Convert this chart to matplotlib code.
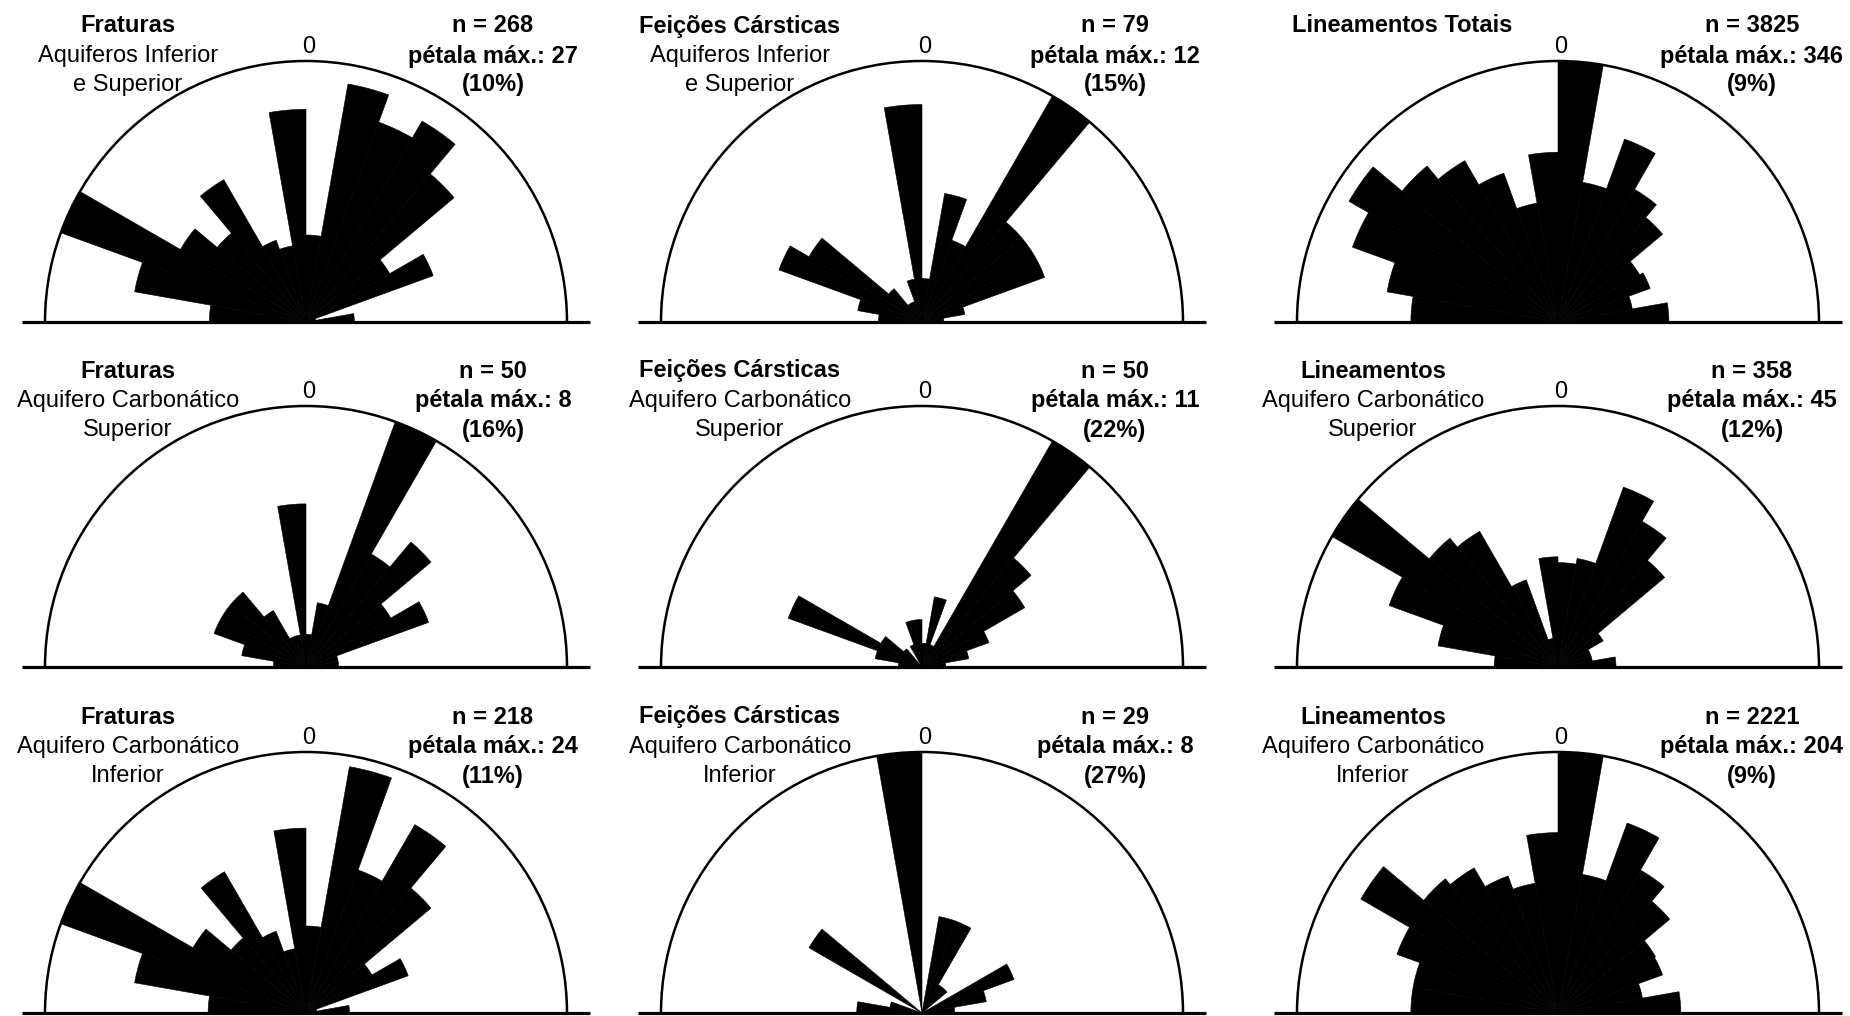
import numpy as np
import matplotlib.pyplot as plt

plt.rcParams['font.family'] = ['Liberation Sans', 'DejaVu Sans']

# setores de 10 graus, de W (-90) a E (90) passando pelo N
setores = np.arange(-90, 90, 10)

# contagens por setor (W -> N -> E)
fraturas_total = [10, 18, 27, 15, 12, 17, 9, 8, 22, 9, 25, 22, 24, 20, 10, 14, 1, 5]
carste_total = [2, 3, 7, 6, 2, 1, 1, 2, 10, 2, 6, 4, 12, 6, 6, 6, 2, 1]
lineamentos_total = [195, 230, 290, 320, 270, 247, 210, 160, 225, 346, 188, 258, 203, 181, 125, 130, 100, 147]
fraturas_sup = [1, 2, 3, 3, 3, 2, 1, 1, 5, 1, 2, 8, 4, 5, 3, 4, 1, 1]
carste_sup = [1, 2, 6, 2, 1, 0, 1, 2, 2, 1, 3, 1, 11, 6, 5, 3, 2, 1]
lineamentos_sup = [11, 21, 31, 45, 29, 27, 16, 5, 19, 18, 19, 33, 29, 24, 9, 6, 6, 10]
fraturas_inf = [9, 16, 24, 12, 9, 15, 8, 6, 17, 8, 23, 14, 20, 15, 7, 10, 1, 4]
carste_inf = [2, 1, 0, 4, 0, 0, 0, 0, 8, 0, 3, 3, 1, 1, 0, 3, 2, 1]
lineamentos_inf = [115, 115, 134, 178, 137, 131, 114, 103, 141, 204, 110, 158, 129, 114, 88, 87, 67, 96]

titulos = ['Fraturas', 'Feições Cársticas', 'Lineamentos Totais',
           'Fraturas', 'Feições Cársticas', 'Lineamentos',
           'Fraturas', 'Feições Cársticas', 'Lineamentos']
subtitulos = [['Aquiferos Inferior', 'e Superior'], ['Aquiferos Inferior', 'e Superior'], [],
              ['Aquifero Carbonático', 'Superior'], ['Aquifero Carbonático', 'Superior'],
              ['Aquifero Carbonático', 'Superior'],
              ['Aquifero Carbonático', 'Inferior'], ['Aquifero Carbonático', 'Inferior'],
              ['Aquifero Carbonático', 'Inferior']]
dados = [fraturas_total, carste_total, lineamentos_total,
         fraturas_sup, carste_sup, lineamentos_sup,
         fraturas_inf, carste_inf, lineamentos_inf]

W, H = 1850, 1016
R = 261
col_x = [306, 922, 1558]
base_y = [322, 667, 1013]
esq_x = [128, 740, 1373]
dir_x = [493, 1115, 1752]
fs = 17

fig = plt.figure(figsize=(W / 100, H / 100), dpi=100)


def texto(x, y, s, bold=False):
    fig.text(x / W, 1 - y / H, s, ha='center', va='center', fontsize=fs,
             fontweight='bold' if bold else 'normal')


for i, cont in enumerate(dados):
    lin, col = divmod(i, 3)
    cx, b = col_x[col], base_y[lin]
    # o semicirculo ocupa a faixa central de um eixo quadrado
    ax = fig.add_axes([(cx - R) / W, (H - b - R / 2) / H, 2 * R / W, 2 * R / H],
                      projection='polar')
    ax.set_theta_zero_location('N')
    ax.set_theta_direction(-1)
    ax.set_thetamin(-90)
    ax.set_thetamax(90)
    cont = np.array(cont)
    ax.bar(np.radians(setores), cont, width=np.radians(10), align='edge',
           color='black', edgecolor='black', linewidth=0.4)
    ax.set_ylim(0, cont.max())
    ax.set_xticks([])
    ax.set_yticks([])
    ax.grid(False)
    for s in ['start', 'end', 'inner']:
        ax.spines[s].set_visible(False)
    ax.spines['polar'].set_linewidth(1.8)
    ax.plot([-0.045, 1.045], [0.25, 0.25], transform=ax.transAxes, color='black',
            lw=2.3, clip_on=False, solid_capstyle='butt')

    n = cont.sum()
    pmax = cont.max()
    # titulo e subtitulos
    tx = esq_x[col] if subtitulos[i] else cx - 156
    texto(tx, b - 296, titulos[i], bold=True)
    for k, sub in enumerate(subtitulos[i]):
        texto(tx, b - 266 + 29 * k, sub)
    texto(cx + 3, b - 275, '0')
    texto(dir_x[col], b - 296, f'n = {n}', bold=True)
    texto(dir_x[col], b - 266, f'pétala máx.: {pmax}', bold=True)
    texto(dir_x[col], b - 237, f'({int(100 * pmax / n)}%)', bold=True)

fig.savefig('out.png', dpi=100, facecolor='white')
